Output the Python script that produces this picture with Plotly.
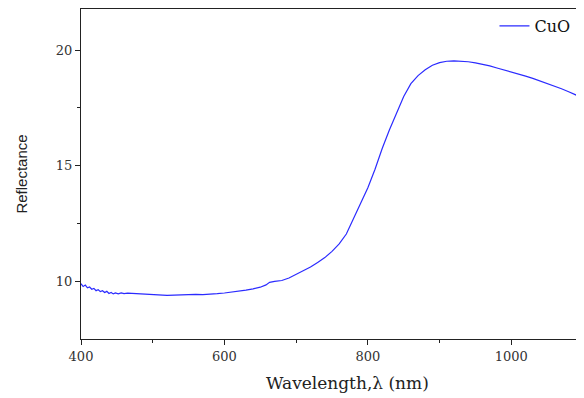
import plotly.graph_objects as go

wavelength = [400, 403, 406, 409, 412, 415, 418, 421, 424, 427, 430, 433, 436, 439, 442, 445, 448,
              452, 456, 460, 465, 470, 480, 490, 500, 510, 520, 530, 540, 550, 560, 570, 580, 590,
              600, 610, 620, 630, 640, 650, 658, 663, 670, 680, 690, 700, 710, 720, 730, 740, 750,
              760, 770, 780, 790, 800, 810, 820, 830, 840, 850, 860, 870, 880, 890, 900, 910, 920,
              930, 940, 950, 960, 970, 980, 990, 1000, 1010, 1020, 1030, 1040, 1050, 1060, 1070,
              1080, 1090, 1100]
reflectance = [9.90, 9.78, 9.84, 9.72, 9.76, 9.66, 9.70, 9.60, 9.64, 9.56, 9.60, 9.52, 9.57, 9.48,
               9.52, 9.46, 9.50, 9.46, 9.50, 9.47, 9.49, 9.48, 9.45, 9.43, 9.42, 9.40, 9.40, 9.41,
               9.42, 9.45, 9.44, 9.43, 9.44, 9.47, 9.50, 9.53, 9.57, 9.62, 9.68, 9.75, 9.85, 9.96,
               10.00, 10.04, 10.15, 10.30, 10.45, 10.62, 10.82, 11.03, 11.30, 11.62, 12.05, 12.70,
               13.35, 14.05, 14.85, 15.75, 16.55, 17.30, 18.00, 18.55, 18.90, 19.15, 19.35, 19.46,
               19.52, 19.54, 19.53, 19.50, 19.45, 19.39, 19.32, 19.23, 19.15, 19.07, 18.98, 18.88,
               18.78, 18.67, 18.57, 18.45, 18.33, 18.20, 18.07, 17.93]

x_ticks = [400, 600, 800, 1000]
y_ticks = [10, 15, 20]
x_title = "Wavelength,λ (nm)"
y_title = "Reflectance"

serif = "DejaVu Serif, Liberation Serif, serif"

fig = go.Figure()
fig.add_trace(go.Scatter(x=wavelength, y=reflectance, mode="lines", name="CuO",
                         line=dict(color="#2b2bff", width=1.2)))

fig.update_layout(
    width=576, height=390,
    margin=dict(l=73, r=1, t=1, b=59),
    paper_bgcolor="white", plot_bgcolor="white",
    showlegend=True,
    legend=dict(x=0.985, y=1.0, xanchor="right", yanchor="top", bgcolor="rgba(0,0,0,0)",
                font=dict(family=serif, size=16, color="#111")),
    annotations=[dict(text=x_title, xref="paper", yref="paper", x=0.53, y=0, yshift=-44,
                      xanchor="center", yanchor="middle", showarrow=False,
                      font=dict(family=serif, size=17, color="#222"))],
)
fig.update_xaxes(
    range=[400, 1100], tickvals=x_ticks, ticktext=[str(v) for v in x_ticks],
    showgrid=False, zeroline=False, showline=True, linecolor="#222", linewidth=1.3, mirror=True,
    ticks="outside", ticklen=5, tickwidth=1.3, tickcolor="#222",
    minor=dict(ticks="outside", ticklen=3, tickwidth=1, tickcolor="#222", dtick=100, tick0=400),
    tickfont=dict(family=serif, size=13, color="#333"),
)
fig.update_yaxes(
    range=[7.51, 21.78], tickvals=y_ticks, ticktext=[str(v) for v in y_ticks],
    showgrid=False, zeroline=False, showline=True, linecolor="#222", linewidth=1.3, mirror=True,
    ticks="outside", ticklen=5, tickwidth=1.3, tickcolor="#222",
    minor=dict(ticks="outside", ticklen=3, tickwidth=1, tickcolor="#222", dtick=2.5, tick0=7.5),
    tickfont=dict(family=serif, size=13, color="#333"),
    title=dict(text=y_title, font=dict(family="Liberation Sans, Arial, sans-serif", size=15, color="#222"), standoff=24),
)

fig.write_html("out.html")
